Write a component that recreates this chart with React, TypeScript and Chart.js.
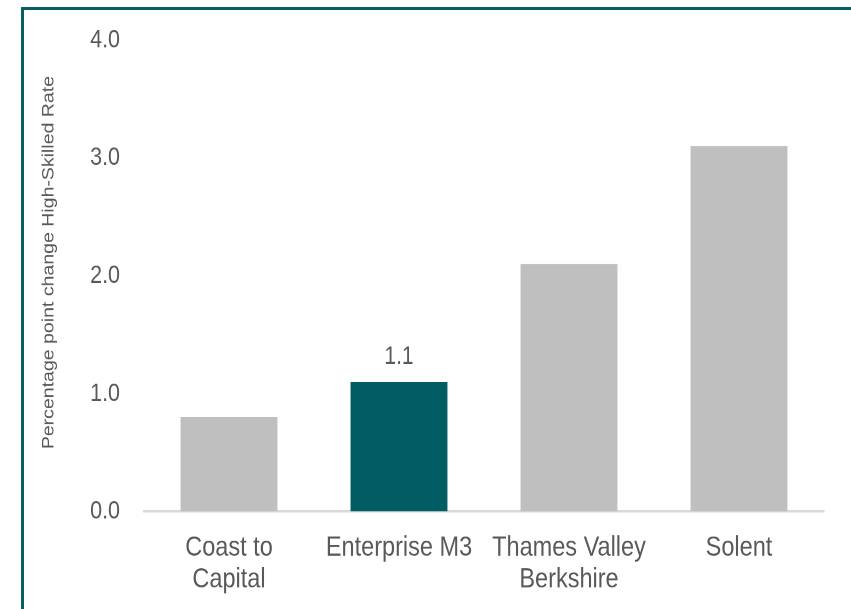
import { useEffect, useRef } from "react";
import { Chart, registerables } from "chart.js";

Chart.register(...registerables);

const categories: (string | string[])[] = [
  ["Coast to", "Capital"],
  "Enterprise M3",
  ["Thames Valley", "Berkshire"],
  "Solent",
];
const values = [0.8, 1.1, 2.1, 3.1];
const barColors = ["#bfbfbf", "#025c63", "#bfbfbf", "#bfbfbf"];
const labelledBars = [1];
const yTitle = "Percentage point change High-Skilled Rate";
const yMin = 0;
const yMax = 4;
const yStep = 1;

const FONT = "'Liberation Sans', Arial, sans-serif";
const TEXT = "#595959";

// The reference picture is stretched vertically; draw at a shorter height and stretch.
const W = 851;
const H = 609;
const STRETCH = 1.2;
const CH = Math.round(H / STRETCH);

const dataLabelPlugin = {
  id: "dataLabels",
  afterDatasetsDraw(chart: any) {
    const ctx = chart.ctx;
    const meta = chart.getDatasetMeta(0);
    ctx.save();
    ctx.font = `21px ${FONT}`;
    ctx.fillStyle = TEXT;
    ctx.textAlign = "center";
    ctx.textBaseline = "alphabetic";
    labelledBars.forEach((i) => {
      const el = meta.data[i];
      ctx.fillText(values[i].toFixed(1), el.x, el.y - 15);
    });
    ctx.restore();
  },
};

const yTitlePlugin = {
  id: "yTitle",
  afterDraw(chart: any) {
    const ctx = chart.ctx;
    const area = chart.chartArea;
    ctx.save();
    ctx.font = `16.3px ${FONT}`;
    ctx.fillStyle = TEXT;
    ctx.textAlign = "center";
    ctx.textBaseline = "middle";
    ctx.translate(49, (area.top + area.bottom) / 2 - 11);
    ctx.rotate(-Math.PI / 2);
    ctx.fillText(yTitle, 0, 0);
    ctx.restore();
  },
};

export default function App() {
  const ref = useRef<HTMLCanvasElement | null>(null);

  useEffect(() => {
    document.body.style.margin = "0";
    const canvas = ref.current;
    if (!canvas) return;
    const chart = new Chart(canvas, {
      type: "bar",
      data: {
        labels: categories,
        datasets: [
          {
            data: values,
            backgroundColor: barColors,
            borderWidth: 0,
            barPercentage: 0.57,
            categoryPercentage: 1,
          },
        ],
      },
      options: {
        responsive: false,
        animation: false,
        devicePixelRatio: 2,
        layout: { padding: { top: 40 / STRETCH, right: 27, left: 0, bottom: 0 } },
        plugins: {
          legend: { display: false },
          tooltip: { enabled: false },
        },
        scales: {
          x: {
            grid: { display: true, color: "rgba(0,0,0,0)", drawTicks: false },
            border: { display: true, color: "#d9d9d9", width: 2 },
            ticks: {
              color: TEXT,
              font: { family: FONT, size: 23.5, lineHeight: 1.135 },
              padding: 17,
              maxRotation: 0,
              autoSkip: false,
            },
            afterFit(scale: any) {
              scale.height = CH - 512 / STRETCH;
            },
          },
          y: {
            min: yMin,
            max: yMax,
            grid: { display: false, drawTicks: false },
            border: { display: false },
            ticks: {
              stepSize: yStep,
              color: TEXT,
              font: { family: FONT, size: 21.5, lineHeight: 0.4 },
              padding: 24,
              callback: (v: any) => Number(v).toFixed(1),
            },
            afterFit(scale: any) {
              scale.width = 144;
            },
          },
        },
      },
      plugins: [dataLabelPlugin, yTitlePlugin],
    });
    return () => chart.destroy();
  }, []);

  return (
    <div style={{ position: "relative", width: W, height: H, overflow: "hidden", background: "#fff" }}>
      <canvas
        ref={ref}
        width={W}
        height={CH}
        style={{
          position: "absolute",
          left: 0,
          top: 0,
          transform: `scaleY(${H / CH})`,
          transformOrigin: "0 0",
        }}
      />
      <div
        style={{
          position: "absolute",
          left: 21,
          top: 7,
          width: 900,
          height: 700,
          borderLeft: "3px solid #085e65",
          borderTop: "3px solid #085e65",
          pointerEvents: "none",
        }}
      />
    </div>
  );
}
